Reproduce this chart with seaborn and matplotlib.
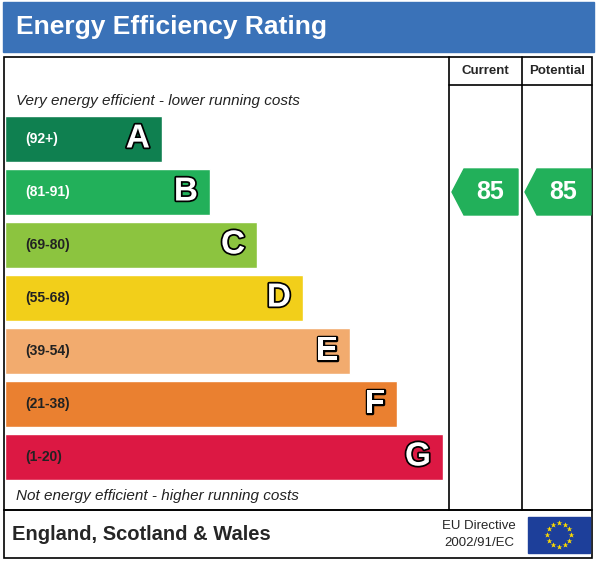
import numpy as np
import pandas as pd
import matplotlib.pyplot as plt
import matplotlib.patheffects as pe
import seaborn as sns
from matplotlib.patches import Rectangle, Polygon

# Band data
bands = ['A', 'B', 'C', 'D', 'E', 'F', 'G']
ranges = ['(92+)', '(81-91)', '(69-80)', '(55-68)', '(39-54)', '(21-38)', '(1-20)']
lengths = [157, 205, 252, 298, 345, 392, 438]
colors = ['#0f8050', '#22b05a', '#8cc43f', '#f2cf1a', '#f2ab6e', '#ea8030', '#dc1843']
current = 85
potential = 85

df = pd.DataFrame({'band': bands, 'length': lengths})

sns.set_style('white')
plt.rcParams['font.family'] = ['Liberation Sans', 'DejaVu Sans']

fig = plt.figure(figsize=(5.97, 5.61), dpi=100)
W, H = 597, 561
bg = fig.add_axes([0, 0, 1, 1])
bg.set_xlim(0, W)
bg.set_ylim(H, 0)
bg.axis('off')

# header
bg.add_patch(Rectangle((3, 2), 591, 50, color='#3a72b8'))
bg.text(16, 27, 'Energy Efficiency Rating', color='white', fontsize=19, fontweight='bold', va='center')

# frame
lw = 1.2
bg.add_patch(Rectangle((4, 57), 588, 453, fill=False, lw=lw, ec='black'))
bg.add_patch(Rectangle((4, 510), 588, 48, fill=False, lw=lw, ec='black'))
for x in (449, 522):
    bg.plot([x, x], [57, 510], color='black', lw=lw)
bg.plot([449, 592], [85, 85], color='black', lw=lw)
bg.text(485, 71, 'Current', ha='center', va='center', fontsize=9.5, fontweight='bold')
bg.text(557, 71, 'Potential', ha='center', va='center', fontsize=9.5, fontweight='bold')
bg.text(16, 101, 'Very energy efficient - lower running costs', fontsize=11, style='italic', va='center', color='#222222')
bg.text(16, 496, 'Not energy efficient - higher running costs', fontsize=11, style='italic', va='center', color='#222222')

# footer
bg.text(12, 534, 'England, Scotland & Wales', fontsize=14.5, fontweight='bold', va='center')
bg.text(479, 526, 'EU Directive', fontsize=9.5, ha='center', va='center')
bg.text(479, 543, '2002/91/EC', fontsize=9.5, ha='center', va='center')
bg.add_patch(Rectangle((528, 517), 62, 36, color='#1d3f9a'))
for a in np.linspace(0, 2 * np.pi, 13)[:-1]:
    bg.plot(559 + 12 * np.cos(a), 535 + 12 * np.sin(a), marker='*', color='#ffdd00', ms=4, mec='none')

# bars
ax = fig.add_axes([5 / W, 1 - 483.5 / H, 444 / W, 371 / H])
sns.barplot(data=df, x='length', y='band', hue='band', palette=colors, width=0.87,
            legend=False, ax=ax, saturation=1)
ax.set_xlim(0, 444)
ax.set_ylim(6.5, -0.5)
ax.axis('off')
for i, (b, r, L) in enumerate(zip(bands, ranges, lengths)):
    tc = 'white' if b in ('A', 'B') else '#222222'
    ax.text(20, i, r, color=tc, fontsize=10, fontweight='bold', va='center')
    ax.text(L - 12, i, b, color='white', fontsize=24, fontweight='bold', ha='right', va='center',
            path_effects=[pe.withStroke(linewidth=2.5, foreground='black')])

# arrows for current / potential
def band_idx(v):
    lims = [92, 81, 69, 55, 39, 21, 1]
    return next(i for i, l in enumerate(lims) if v >= l)

for val, x0, x1 in ((current, 452, 518), (potential, 525, 591)):
    i = band_idx(val)
    yc = 116 + 23 + 53 * i
    h = 23
    bg.add_patch(Polygon([(x0, yc), (x0 + 12, yc - h), (x1, yc - h), (x1, yc + h), (x0 + 12, yc + h)],
                         color=colors[i]))
    bg.text((x0 + x1) / 2 + 5, yc, str(val), color='white', fontsize=18, fontweight='bold',
            ha='center', va='center')

fig.savefig('out.png', dpi=100)
